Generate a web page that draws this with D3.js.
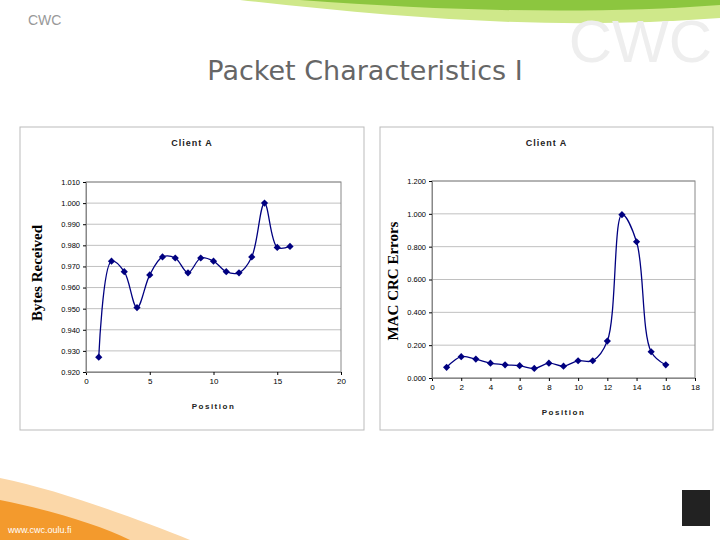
<!DOCTYPE html>
<html><head><meta charset="utf-8">
<script src="https://cdn.jsdelivr.net/npm/d3@7"></script>
<style>body{margin:0;background:#fff}</style>
</head><body>
<div id="chart"></div>
<script>
var positions = [1,2,3,4,5,6,7,8,9,10,11,12,13,14,15,16];
var bytesReceived = [0.927,0.9725,0.9675,0.9505,0.966,0.9745,0.974,0.967,0.974,0.9725,0.9675,0.967,0.9745,1.000,0.979,0.9795];
var crcErrors = [0.065,0.13,0.115,0.09,0.08,0.075,0.058,0.09,0.072,0.105,0.105,0.225,0.995,0.83,0.16,0.08];
var leftYTicks = [0.920,0.930,0.940,0.950,0.960,0.970,0.980,0.990,1.000,1.010];
var leftXTicks = [0,5,10,15,20];
var rightYTicks = [0,0.2,0.4,0.6,0.8,1.0,1.2];
var rightXTicks = [0,2,4,6,8,10,12,14,16,18];

var svg = d3.select("#chart").append("svg").attr("width", 720).attr("height", 540);

// slide decoration
svg.append("path").attr("d", "M240,0 C420,20 560,30 720,18 L720,0 Z").attr("fill", "#cfe88a");
svg.append("path").attr("d", "M300,0 C460,12 600,14 720,5 L720,0 Z").attr("fill", "#8cc63f");
svg.append("text").attr("x", 712).attr("y", 62).attr("text-anchor", "end")
    .attr("font-family", "Arial").attr("font-size", 60).attr("fill", "#eeeeee").text("CWC");
svg.append("path").attr("d", "M0,478 C60,490 140,520 190,540 L0,540 Z").attr("fill", "#fbd7a8");
svg.append("path").attr("d", "M0,500 C50,510 100,525 130,540 L0,540 Z").attr("fill", "#f39a2d");
svg.append("text").attr("x", 8).attr("y", 533).attr("font-family", "Arial").attr("font-size", 9)
    .attr("fill", "#fff").text("www.cwc.oulu.fi");
svg.append("text").attr("x", 28).attr("y", 25).attr("font-family", "Arial").attr("font-size", 14)
    .attr("fill", "#999").text("CWC");
svg.append("rect").attr("x", 682).attr("y", 490).attr("width", 28).attr("height", 36).attr("fill", "#222");

svg.append("text").attr("x", 365).attr("y", 80).attr("text-anchor", "middle")
    .attr("font-family", "DejaVu Sans").attr("font-size", 27).attr("fill", "#666")
    .text("Packet Characteristics I");

function drawChart(opt) {
    svg.append("rect").attr("x", opt.box[0]).attr("y", opt.box[1]).attr("width", opt.box[2]).attr("height", opt.box[3])
        .attr("fill", "#fff").attr("stroke", "#bbb");
    var x = d3.scaleLinear().domain(opt.xd).range([opt.x0, opt.x1]);
    var y = d3.scaleLinear().domain(opt.yd).range([opt.y0, opt.y1]);
    var g = svg.append("g");
    opt.yTicks.forEach(function (t) {
        g.append("line").attr("x1", opt.x0).attr("x2", opt.x1).attr("y1", y(t)).attr("y2", y(t))
            .attr("stroke", "#c0c0c0");
    });
    g.append("rect").attr("x", opt.x0).attr("y", opt.y1).attr("width", opt.x1 - opt.x0).attr("height", opt.y0 - opt.y1)
        .attr("fill", "none").attr("stroke", "#888");
    g.append("g").attr("transform", "translate(0," + opt.y0 + ")")
        .call(d3.axisBottom(x).tickValues(opt.xTicks).tickSize(3).tickFormat(d3.format("d")))
        .call(function (a) { a.select(".domain").attr("stroke", "#888"); a.selectAll("text").attr("font-size", 8).attr("font-family", "Arial"); });
    g.append("g").attr("transform", "translate(" + opt.x0 + ",0)")
        .call(d3.axisLeft(y).tickValues(opt.yTicks).tickSize(3).tickFormat(d3.format(".3f")))
        .call(function (a) { a.select(".domain").attr("stroke", "#888"); a.selectAll("text").attr("font-size", 7.5).attr("font-family", "Arial"); });
    var line = d3.line().x(function (d, i) { return x(positions[i]); }).y(function (d) { return y(d); })
        .curve(d3.curveCatmullRom.alpha(0.5));
    g.append("path").datum(opt.data).attr("d", line).attr("fill", "none").attr("stroke", "#000080").attr("stroke-width", 1.3);
    g.selectAll(".pt").data(opt.data).enter().append("path")
        .attr("transform", function (d, i) { return "translate(" + x(positions[i]) + "," + y(d) + ") rotate(45)"; })
        .attr("d", d3.symbol().type(d3.symbolSquare).size(26)).attr("fill", "#000080");
    svg.append("text").attr("x", (opt.box[0] * 2 + opt.box[2]) / 2).attr("y", opt.box[1] + 19).attr("text-anchor", "middle")
        .attr("font-family", "Arial").attr("font-weight", "bold").attr("font-size", 9).attr("letter-spacing", 1)
        .attr("fill", "#222").text("Client A");
    svg.append("text").attr("x", (opt.x0 + opt.x1) / 2).attr("y", opt.y0 + 37).attr("text-anchor", "middle")
        .attr("font-family", "Arial").attr("font-weight", "bold").attr("font-size", 8).attr("letter-spacing", 1.5)
        .attr("fill", "#222").text("Position");
    svg.append("text").attr("transform", "translate(" + opt.lab[0] + "," + opt.lab[1] + ") rotate(-90)")
        .attr("text-anchor", "middle").attr("font-family", "Liberation Serif").attr("font-weight", "bold")
        .attr("font-size", 15).attr("fill", "#000").text(opt.label);
}

drawChart({ box: [20, 127, 344, 303], x0: 86, x1: 341, y0: 372, y1: 182, xd: [0, 20], yd: [0.92, 1.01],
    xTicks: leftXTicks, yTicks: leftYTicks, data: bytesReceived, label: "Bytes Received", lab: [42, 273] });
drawChart({ box: [380, 127, 333, 303], x0: 432, x1: 695, y0: 378, y1: 181, xd: [0, 18], yd: [0, 1.2],
    xTicks: rightXTicks, yTicks: rightYTicks, data: crcErrors, label: "MAC CRC Errors", lab: [398, 281] });
</script>
</body></html>
